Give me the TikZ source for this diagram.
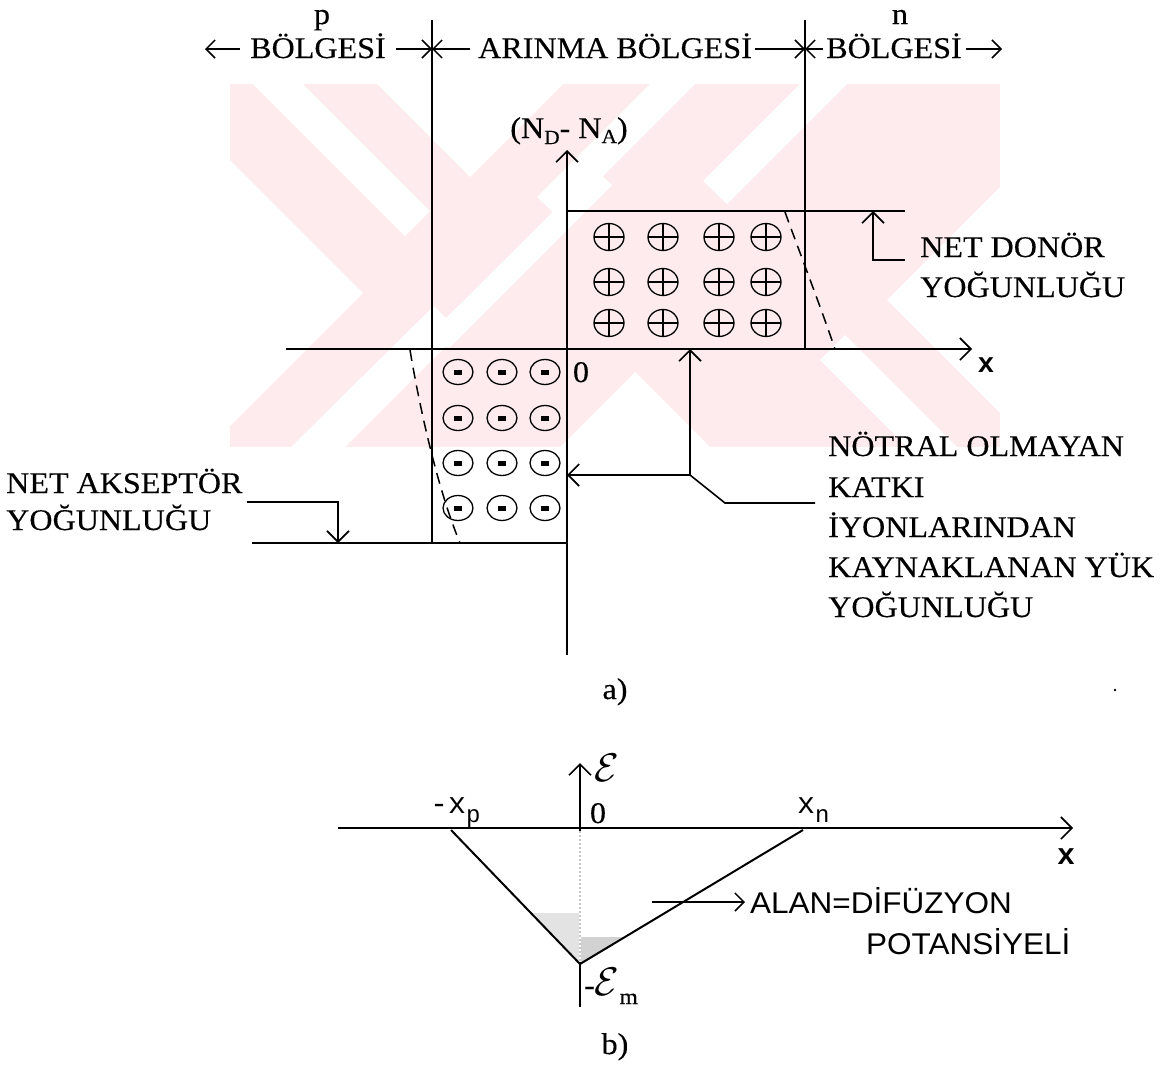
\documentclass[tikz,border=0pt]{standalone}
\usepackage{fontspec}
\usetikzlibrary{arrows.meta,shapes.geometric}
\newfontfamily\labfont{Liberation Serif}[FakeStretch=1.07,FakeBold=0.3]
\newfontfamily\monfont{Liberation Mono}
\newfontfamily\sansfont{Liberation Sans}[FakeStretch=1.05]
\definecolor{wm}{RGB}{253,235,238}
\newcommand\lab{\labfont\fontsize{30}{36}\selectfont}
\newcommand\mon{\monfont\fontsize{30}{36}\selectfont}
\newcommand\san{\sansfont\fontsize{30}{36}\selectfont}
\tikzset{
  ln/.style={line width=1.6pt},
  arr/.style={line width=1.6pt,-{Straight Barb[length=11pt,width=22pt]}},
  sarr/.style={line width=1.5pt,-{Straight Barb[length=9pt,width=18pt]}},
  dsh/.style={line width=1.5pt,dash pattern=on 11pt off 7pt},
  txt/.style={inner sep=0pt,font=\lab},
  mtxt/.style={inner sep=0pt,font=\mon},
  stxt/.style={inner sep=0pt,font=\san},
  pc/.style={draw,ellipse,minimum width=30pt,minimum height=27pt,inner sep=0pt,line width=1.3pt,
    path picture={\draw[line width=1.3pt] (path picture bounding box.north)--(path picture bounding box.south)
      (path picture bounding box.west)--(path picture bounding box.east);}},
  mc/.style={draw,ellipse,minimum width=30pt,minimum height=25pt,inner sep=0pt,line width=1.3pt,
    path picture={\fill ([shift={(-4pt,-2.5pt)}]path picture bounding box.center) rectangle ([shift={(4pt,2.5pt)}]path picture bounding box.center);}},
}
\begin{document}
\begin{tikzpicture}[x=1pt,y=-1pt]
\useasboundingbox (0,0) rectangle (1171,1082);
\fill[white] (0,0) rectangle (1171,1082);
% watermark
\fill[wm] (230,84) rectangle (1000,447);
\fill[white] (230,160)--(363,293)--(230,426)--cycle;
\fill[white] (1000,187)--(887,300)--(1000,413)--cycle;
\fill[white] (377,84)--(470,177)--(563,84)--cycle;
\fill[white] (253,84)--(303,84)--(430,211)--(405,236)--cycle;
\fill[white] (650,84)--(695,84)--(560,219)--(537,197)--cycle;
\fill[white] (800,84)--(847,84)--(727,204)--(703,181)--cycle;
\fill[white] (291,447)--(345,447)--(460,332)--(434,306)--cycle;
\fill[white] (417,347)--(450,347)--(612,185)--(595,170)--cycle;
\fill[white] (560,447)--(635,372)--(710,447)--cycle;
\fill[white] (820,360)--(845,335)--(957,447)--(907,447)--cycle;

% ---------- a) ----------
\node[txt,anchor=base] (p) at (322,24) {p};
\node[txt,anchor=base] (n) at (900,24) {n};
\node[txt,anchor=base west] (pB) at (250,58) {BÖLGESİ};
\node[txt,anchor=base west] (aB) at (478,58) {ARINMA BÖLGESİ};
\node[txt,anchor=base west] (nB) at (826,58) {BÖLGESİ};
\coordinate (LT) at (432,20); \coordinate (LB) at (432,543);
\coordinate (RT) at (805,20); \coordinate (RB) at (805,349);
\coordinate (L49) at (432,49); \coordinate (R49) at (805,49);
\coordinate (a1s) at (240,49); \coordinate (a1e) at (205,49);
\coordinate (a2s) at (396,49); \coordinate (a3s) at (470,49);
\coordinate (a4s) at (755,49); \coordinate (a5s) at (823,49);
\coordinate (a6s) at (966,49); \coordinate (a6e) at (1002,49);
\draw[ln] (LT)--(LB);
\draw[ln] (RT)--(RB);
\draw[sarr] (a1s)--(a1e);
\draw[sarr] (a2s)--(L49);
\draw[sarr] (a3s)--(L49);
\draw[sarr] (a4s)--(R49);
\draw[sarr] (a5s)--(R49);
\draw[sarr] (a6s)--(a6e);

% axes
\coordinate (O) at (567,349);
\coordinate (Ybot) at (567,655); \coordinate (Ytop) at (567,150);
\coordinate (Xl) at (286,349); \coordinate (Xr) at (972,349);
\draw[arr] (Ybot)--(Ytop);
\draw[arr] (Xl)--(Xr);
\node[txt,anchor=base] (NDNA) at (569,138) {(N\raisebox{-6pt}{\fontsize{20}{20}\selectfont D}- N\raisebox{-5pt}{\fontsize{20}{20}\selectfont A})};
\node[mtxt,anchor=base] (xlab) at (986,372) {\fontsize{28}{30}\selectfont\bfseries x};
\node[txt,anchor=base] (zero) at (581,382) {0};

% donor box
\coordinate (Dtl) at (567,211); \coordinate (Dtr) at (905,211);
\draw[ln] (Dtl)--(Dtr);
\foreach \c [count=\i] in {609,663,719,766}
  \foreach \r [count=\j] in {237,282,323}
    \node[pc] (p\i\j) at (\c,\r) {};
\draw[dsh] (785,212) .. controls (795,240) and (820,305) .. (835,349);
\coordinate (Dn1) at (905,260); \coordinate (Dn2) at (873,260); \coordinate (Dn3) at (873,211);
\draw[arr] (Dn1)--(Dn2)--(Dn3);
\node[txt,anchor=base west] (nd1) at (920,257) {NET DONÖR};
\node[txt,anchor=base west] (nd2) at (920,297) {YOĞUNLUĞU};

% acceptor box
\coordinate (Abl) at (252,543); \coordinate (Abr) at (567,543);
\draw[ln] (Abl)--(Abr);
\foreach \c [count=\i] in {458,502,545}
  \foreach \r [count=\j] in {372,418,463,508}
    \node[mc] (m\i\j) at (\c,\r) {};
\draw[dsh] (410,350) .. controls (420,410) and (438,490) .. (460,543);
\coordinate (Ac1) at (247,502); \coordinate (Ac2) at (338,502); \coordinate (Ac3) at (338,543);
\draw[arr] (Ac1)--(Ac2)--(Ac3);
\node[txt,anchor=base west] (na1) at (6,493) {NET AKSEPTÖR};
\node[txt,anchor=base west] (na2) at (6,530) {YOĞUNLUĞU};

% neutral arrow
\coordinate (K) at (690,475); \coordinate (Kx) at (690,349); \coordinate (Ky) at (567,475);
\coordinate (K2) at (725,503); \coordinate (K3) at (815,503);
\draw[arr] (K)--(Kx);
\draw[arr] (K)--(Ky);
\draw[ln] (K)--(K2)--(K3);
\node[txt,anchor=base west] (t1) at (828,456) {NÖTRAL OLMAYAN};
\node[txt,anchor=base west] (t2) at (828,497) {KATKI};
\node[txt,anchor=base west] (t3) at (828,537) {İYONLARINDAN};
\node[txt,anchor=base west] (t4) at (828,577) {KAYNAKLANAN YÜK};
\node[txt,anchor=base west] (t5) at (828,617) {YOĞUNLUĞU};
\node[txt,anchor=base] (la) at (615,699) {a)};
\fill (1115,690) circle (1.3pt);

% ---------- b) ----------
\coordinate (Eb) at (580,1007); \coordinate (Et) at (580,763);
\coordinate (Ex1) at (338,828); \coordinate (Ex2) at (1073,828);
\coordinate (Tl) at (451,830); \coordinate (Tv) at (580,964); \coordinate (Tr) at (803,830);
\fill[gray!22] (531,913)--(580,913)--(Tv)--cycle;
\fill[gray!35] (580,937)--(624,937)--(Tv)--cycle;
\draw[arr] (Eb)--(Et);
\draw[white,line width=2.2pt] (580,831)--(580,962);
\draw[gray!45,line width=1.2pt,dash pattern=on 2pt off 2pt] (580,831)--(580,962);
\draw[arr] (Ex1)--(Ex2);
\draw[line width=2pt,line join=miter] (Tl)--(Tv)--(Tr);
\node[inner sep=0pt] (Elab) at (607,768) {\scalebox{4}{$\mathcal{E}$}};
\node[mtxt,anchor=base] (xlab2) at (1066,864) {\bfseries x};
\node[mtxt,anchor=base west] (xp) at (430,813) {-x\raisebox{-9pt}{\fontsize{24}{24}\selectfont p}};
\node[txt,anchor=base] (zero2) at (598,823) {0};
\node[mtxt,anchor=base west] (xn) at (797,813) {x\raisebox{-9pt}{\fontsize{24}{24}\selectfont n}};
\node[inner sep=0pt,anchor=base west] (Em) at (584,995) {{\lab -}\scalebox{4}{$\mathcal{E}$}{\lab\raisebox{-9pt}{\fontsize{22}{22}\selectfont m}}};
\coordinate (Al1) at (652,902); \coordinate (Al2) at (745,902);
\draw[sarr] (Al1)--(Al2);
\node[stxt,anchor=base west] (al1) at (750,913) {ALAN=DİFÜZYON};
\node[stxt,anchor=base west] (al2) at (866,954) {POTANSİYELİ};
\node[txt,anchor=base] (lb) at (615,1054) {b)};
\end{tikzpicture}
\end{document}
